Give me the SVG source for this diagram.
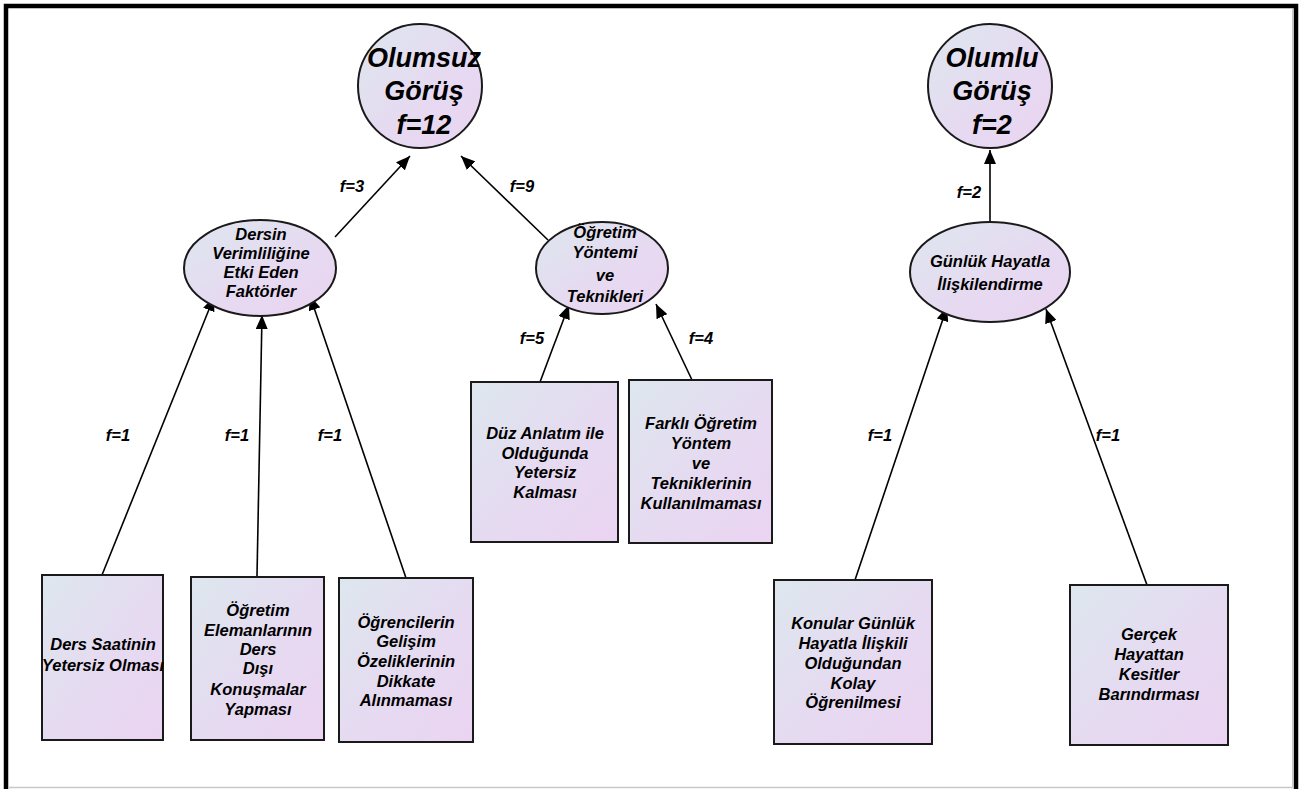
<svg xmlns="http://www.w3.org/2000/svg" width="1299" height="789" viewBox="0 0 1299 789">
<defs>
<linearGradient id="g" x1="0" y1="0" x2="1" y2="1">
<stop offset="0" stop-color="#dde7ee"/>
<stop offset="0.55" stop-color="#e6daf1"/>
<stop offset="1" stop-color="#ebd4f2"/>
</linearGradient>
<marker id="ahl" viewBox="0 0 14 12" refX="14" refY="6" markerWidth="14" markerHeight="12" markerUnits="userSpaceOnUse" orient="auto">
<path d="M0,0 L14,6 L0,12 z" fill="#000"/>
</marker>
</defs>
<style>
.sh{fill:url(#g);stroke:#1a1a1a;stroke-width:2}
.t{font-family:"Liberation Sans",Arial,sans-serif;font-weight:bold;font-style:italic;fill:#000;text-anchor:middle}
.big{font-size:27px}
.mid{font-size:16.5px}
.lbl{font-family:"Liberation Sans",Arial,sans-serif;font-weight:bold;font-style:italic;font-size:16.5px;fill:#000;text-anchor:middle}
.e{stroke:#000;stroke-width:1.6;fill:none;marker-end:url(#ahl)}
</style>
<rect x="0" y="0" width="1299" height="789" fill="#fff"/>
<rect x="6" y="6" width="1290" height="800" fill="none" stroke="#000" stroke-width="4.5"/>
<line x1="8" y1="787.5" x2="1294" y2="787.5" stroke="#c8c8c8" stroke-width="1.5"/>
<line x1="1292.5" y1="9" x2="1292.5" y2="787" stroke="#c8c8c8" stroke-width="1"/>

<g id="connectors">
<line class="e" x1="335" y1="237" x2="410" y2="156"/>
<line class="e" x1="548" y1="240" x2="461" y2="156"/>
<line class="e" x1="990" y1="222" x2="990" y2="150"/>
<line class="e" x1="102" y1="575" x2="214" y2="297"/>
<line class="e" x1="257" y1="576" x2="262" y2="315"/>
<line class="e" x1="406" y1="578" x2="310" y2="296"/>
<line class="e" x1="540" y1="382" x2="569" y2="305"/>
<line class="e" x1="692" y1="380" x2="656" y2="304"/>
<line class="e" x1="855" y1="580" x2="947" y2="307"/>
<line class="e" x1="1147" y1="585" x2="1046" y2="309"/>
<text class="lbl" x="352" y="192">f=3</text>
<text class="lbl" x="522" y="192">f=9</text>
<text class="lbl" x="969" y="198">f=2</text>
<text class="lbl" x="118" y="441">f=1</text>
<text class="lbl" x="237" y="441">f=1</text>
<text class="lbl" x="330" y="441">f=1</text>
<text class="lbl" x="532" y="344">f=5</text>
<text class="lbl" x="701" y="344">f=4</text>
<text class="lbl" x="880" y="441">f=1</text>
<text class="lbl" x="1108" y="441">f=1</text>
</g>

<g id="olumsuz">
<circle class="sh" cx="420" cy="86" r="62"/>
<text class="t big" x="424" y="67">Olumsuz</text>
<text class="t big" x="424" y="100">Görüş</text>
<text class="t big" x="424" y="134">f=12</text>
</g>

<g id="olumlu">
<circle class="sh" cx="990" cy="86" r="62"/>
<text class="t big" x="992" y="67">Olumlu</text>
<text class="t big" x="992" y="100">Görüş</text>
<text class="t big" x="992" y="134">f=2</text>
</g>

<g id="dersin">
<ellipse class="sh" cx="260" cy="268" rx="76" ry="48"/>
<text class="t mid" x="261" y="240">Dersin</text>
<text class="t mid" x="261" y="259">Verimliliğine</text>
<text class="t mid" x="261" y="278">Etki Eden</text>
<text class="t mid" x="261" y="297">Faktörler</text>
</g>

<g id="ogretim">
<ellipse class="sh" cx="602" cy="268" rx="66" ry="46"/>
<text class="t mid" x="605" y="238">Öğretim</text>
<text class="t mid" x="605" y="258">Yöntemi</text>
<text class="t mid" x="605" y="281">ve</text>
<text class="t mid" x="605" y="302">Teknikleri</text>
</g>

<g id="gunluk">
<ellipse class="sh" cx="990" cy="272" rx="80" ry="50"/>
<text class="t mid" x="990" y="267">Günlük Hayatla</text>
<text class="t mid" x="990" y="290">İlişkilendirme</text>
</g>

<g id="b1">
<rect class="sh" x="42" y="575" width="121" height="165"/>
<text class="t mid" x="103" y="650">Ders Saatinin</text>
<text class="t mid" x="103" y="671">Yetersiz Olması</text>
</g>

<g id="b2">
<rect class="sh" x="191" y="577" width="133" height="163"/>
<text class="t mid" x="258" y="616">Öğretim</text>
<text class="t mid" x="258" y="636">Elemanlarının</text>
<text class="t mid" x="258" y="655">Ders</text>
<text class="t mid" x="258" y="674">Dışı</text>
<text class="t mid" x="258" y="695">Konuşmalar</text>
<text class="t mid" x="258" y="715">Yapması</text>
</g>

<g id="b3">
<rect class="sh" x="339" y="578" width="134" height="164"/>
<text class="t mid" x="406" y="628">Öğrencilerin</text>
<text class="t mid" x="406" y="647">Gelişim</text>
<text class="t mid" x="406" y="667">Özeliklerinin</text>
<text class="t mid" x="406" y="687">Dikkate</text>
<text class="t mid" x="406" y="706">Alınmaması</text>
</g>

<g id="b4">
<rect class="sh" x="471" y="382" width="147" height="160"/>
<text class="t mid" x="545" y="439">Düz Anlatım ile</text>
<text class="t mid" x="545" y="459">Olduğunda</text>
<text class="t mid" x="545" y="478">Yetersiz</text>
<text class="t mid" x="545" y="498">Kalması</text>
</g>

<g id="b5">
<rect class="sh" x="629" y="380" width="143" height="163"/>
<text class="t mid" x="701" y="429">Farklı Öğretim</text>
<text class="t mid" x="701" y="449">Yöntem</text>
<text class="t mid" x="701" y="469">ve</text>
<text class="t mid" x="701" y="489">Tekniklerinin</text>
<text class="t mid" x="701" y="509">Kullanılmaması</text>
</g>

<g id="b6">
<rect class="sh" x="774" y="580" width="158" height="164"/>
<text class="t mid" x="853" y="629">Konular Günlük</text>
<text class="t mid" x="853" y="649">Hayatla İlişkili</text>
<text class="t mid" x="853" y="669">Olduğundan</text>
<text class="t mid" x="853" y="689">Kolay</text>
<text class="t mid" x="853" y="708">Öğrenilmesi</text>
</g>

<g id="b7">
<rect class="sh" x="1070" y="585" width="158" height="160"/>
<text class="t mid" x="1149" y="640">Gerçek</text>
<text class="t mid" x="1149" y="660">Hayattan</text>
<text class="t mid" x="1149" y="680">Kesitler</text>
<text class="t mid" x="1149" y="700">Barındırması</text>
</g>
</svg>
